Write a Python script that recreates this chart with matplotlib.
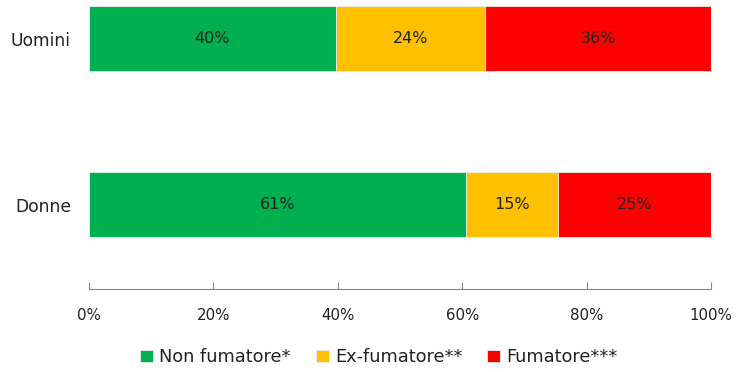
import matplotlib.pyplot as plt
import numpy as np
from matplotlib.ticker import PercentFormatter

# data -----------------------------------
groups = ['Donne', 'Uomini']
categories = ['Non fumatore*', 'Ex-fumatore**', 'Fumatore***']
non_fumatore = [60.6, 39.7]
ex_fumatore = [14.8, 24.0]
fumatore = [24.6, 36.3]
colors = ['#00B050', '#FFC000', '#FF0000']

series = [non_fumatore, ex_fumatore, fumatore]

plt.rcParams['font.family'] = ['DejaVu Sans']

fig = plt.figure(figsize=(7.36, 3.72), dpi=100)
ax = fig.add_axes([89 / 736, 1 - 289 / 372, 622 / 736, 289 / 372])

y = np.arange(len(groups))
left = np.zeros(len(groups))
for vals, name, col in zip(series, categories, colors):
    bars = ax.barh(y, vals, left=left, height=0.39, color=col, label=name,
                   edgecolor='#e8f0e8', linewidth=0.6)
    for b, v in zip(bars, vals):
        ax.text(b.get_x() + b.get_width() / 2, b.get_y() + b.get_height() / 2,
                '{:.0f}%'.format(v), ha='center', va='center',
                fontsize=11.5, color='#222222')
    left += np.array(vals)

# axes -----------------------------------
ax.set_xlim(0, 100)
ax.set_ylim(-0.509, 1.232)
ax.set_yticks(y)
ax.set_yticklabels(groups, fontsize=12.3, color='#222222')
ax.set_xticks(np.arange(0, 101, 20))
ax.xaxis.set_major_formatter(PercentFormatter(decimals=0))
ax.tick_params(axis='y', length=0, pad=13)
ax.tick_params(axis='x', direction='in', length=5, color='#868686',
               labelsize=10.8, labelcolor='#222222', pad=14)
for s in ['top', 'right', 'left']:
    ax.spines[s].set_visible(False)
ax.spines['bottom'].set_color('#868686')

fig.legend(loc='center', bbox_to_anchor=(379 / 736, 0.040), ncol=3,
           frameon=False, handlelength=0.72, handleheight=0.72,
           handletextpad=0.35, columnspacing=1.4, fontsize=12.8,
           labelcolor='#222222')

plt.savefig('out.png', dpi=100)
